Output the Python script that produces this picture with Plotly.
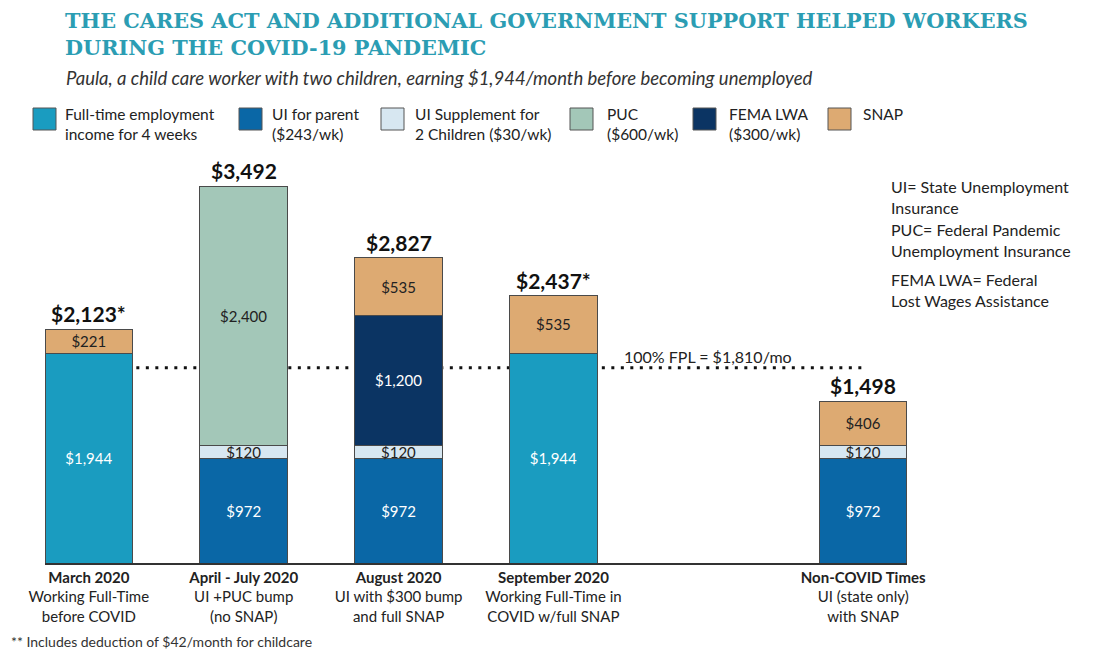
import plotly.graph_objects as go

# categories (x slot 4 is left empty on purpose)
positions = [0, 1, 2, 3, 5]
tick_labels = [
    "<b>March 2020</b><br>Working Full-Time<br>before COVID",
    "<b>April - July 2020</b><br>UI +PUC bump<br>(no SNAP)",
    "<b>August 2020</b><br>UI with $300 bump<br>and full SNAP",
    "<b>September 2020</b><br>Working Full-Time in<br>COVID w/full SNAP",
    "<b>Non-COVID Times</b><br>UI (state only)<br>with SNAP",
]

# monthly amounts per component
fulltime = [1944, 0, 0, 1944, 0]
ui_parent = [0, 972, 972, 0, 972]
ui_children = [0, 120, 120, 0, 120]
puc = [0, 2400, 0, 0, 0]
fema = [0, 0, 1200, 0, 0]
snap = [221, 0, 535, 535, 406]

totals = [2165, 3492, 2827, 2479, 1498]
total_labels = ["$2,123*", "$3,492", "$2,827", "$2,437*", "$1,498"]

fpl = 1810

series = [
    ("Full-time employment<br>income for 4 weeks", fulltime, "#1a9cc0", "white"),
    ("UI for parent<br>($243/wk)", ui_parent, "#0a67a6", "white"),
    ("UI Supplement for<br>2 Children ($30/wk)", ui_children, "#d7e7f1", "#222"),
    ("PUC<br>($600/wk)", puc, "#a3c7b8", "#222"),
    ("FEMA LWA<br>($300/wk)", fema, "#0b3463", "white"),
    ("SNAP", snap, "#ddaa72", "#222"),
]

FONT = "Lato"

# page body adds an offset, so the figure is drawn slightly smaller
OX, OY = 8, 9
W, H = 1093 - OX, 657 - OY

fig = go.Figure()
for name, vals, color, tcolor in series:
    fig.add_trace(go.Bar(
        x=positions, y=[v if v else None for v in vals], name=name,
        marker=dict(color=color, line=dict(color="#4a4a4a", width=1)),
        text=["${:,}".format(v) if v else "" for v in vals],
        textposition="inside", insidetextanchor="middle",
        textfont=dict(color=tcolor, size=15, family=FONT),
        width=0.565, showlegend=False,
    ))

# bar totals
for p, t, lab in zip(positions, totals, total_labels):
    fig.add_annotation(x=p, y=t, text="<b>" + lab + "</b>", showarrow=False,
                       yanchor="bottom", yshift=1,
                       font=dict(size=21, color="#111", family=FONT))

# poverty line
fig.add_shape(type="line", x0=0, x1=5, y0=fpl, y1=fpl, xref="x", yref="y",
              line=dict(color="#111", width=3, dash="3px,6.5px"), layer="below")
fig.add_annotation(x=4.0, y=fpl, text="100% FPL = $1,810/mo", showarrow=False,
                   yanchor="bottom", yshift=0, font=dict(size=16, color="#222", family=FONT))

# plot area in reference pixels
L, R, T, B = 45, 907, 154, 564


def px(x):
    return (x - L) / (R - L)


def py(y):
    return (B - y) / (B - T)


# custom legend
swatch_x = [33, 239, 381, 570, 693, 828]
label_x = [65, 272, 415, 607, 729, 863]
for (name, vals, color, tcolor), sx, lx in zip(series, swatch_x, label_x):
    fig.add_shape(type="rect", xref="paper", yref="paper",
                  x0=px(sx), x1=px(sx + 23), y0=py(131), y1=py(109),
                  fillcolor=color, line=dict(color="#555", width=1))
    fig.add_annotation(xref="paper", yref="paper", x=px(lx - 2), y=py(104),
                       xanchor="left", yanchor="top", align="left", showarrow=False,
                       text=name, font=dict(size=15.5, color="#222", family=FONT))

# titles
fig.add_annotation(xref="paper", yref="paper", x=px(63), y=py(7), xanchor="left", yanchor="top",
                   align="left", showarrow=False,
                   text="<b>THE CARES ACT AND ADDITIONAL GOVERNMENT SUPPORT HELPED WORKERS<br>"
                        "DURING THE COVID-19 PANDEMIC</b>",
                   font=dict(size=20.8, color="#2b9db3", family="DejaVu Serif"))
fig.add_annotation(xref="paper", yref="paper", x=px(64), y=py(66), xanchor="left", yanchor="top",
                   align="left", showarrow=False,
                   text="<i>Paula, a child care worker with two children, earning $1,944/month before becoming unemployed</i>",
                   font=dict(size=18.5, color="#333", family=FONT))

# side notes
notes = [
    (176, "UI= State Unemployment<br>Insurance"),
    (219, "PUC= Federal Pandemic<br>Unemployment Insurance"),
    (269, "FEMA LWA= Federal<br>Lost Wages Assistance"),
]
for ny, nt in notes:
    fig.add_annotation(xref="paper", yref="paper", x=px(889), y=py(ny), xanchor="left", yanchor="top",
                       align="left", showarrow=False, text=nt,
                       font=dict(size=16, color="#222", family=FONT))

fig.add_annotation(xref="paper", yref="paper", x=px(9), y=py(632), xanchor="left", yanchor="top",
                   align="left", showarrow=False, text="** Includes deduction of $42/month for childcare",
                   font=dict(size=14, color="#333", family=FONT))

fig.update_layout(
    barmode="stack",
    width=W, height=H,
    margin=dict(l=L - OX, r=1093 - R, t=T - OY, b=657 - B),
    plot_bgcolor="white", paper_bgcolor="white",
    font=dict(family=FONT, color="#222"),
    uniformtext=dict(minsize=15, mode="show"),
    xaxis=dict(range=[-0.283, 5.283], tickvals=positions, ticktext=tick_labels,
               showline=True, linecolor="#333", linewidth=1.5, showgrid=False,
               zeroline=False, ticks="", tickfont=dict(size=15, color="#222", family=FONT)),
    yaxis=dict(range=[0, 3800], visible=False, showgrid=False),
)

fig.write_html("out.html")
